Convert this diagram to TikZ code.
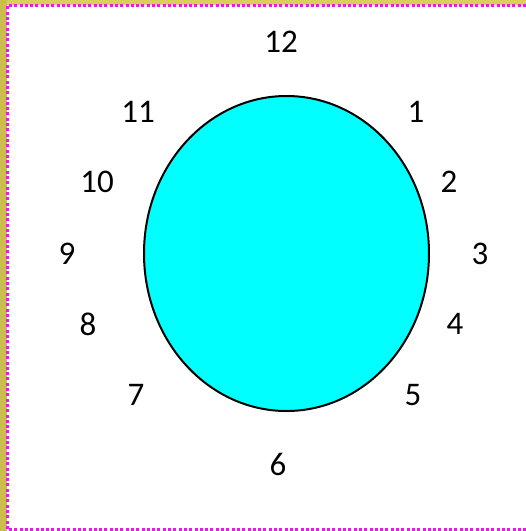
\documentclass[tikz,border=0pt]{standalone}
\usepackage{fontspec}
\setmainfont{Carlito}
\usepackage{tikz}
\usetikzlibrary{positioning}
\definecolor{myolive}{RGB}{204,190,78}
\definecolor{myyellow}{RGB}{218,206,92}
\definecolor{mymagenta}{RGB}{240,20,240}
\definecolor{mycyan}{RGB}{0,255,255}
\tikzset{
  hourlabel/.style={font=\fontsize{33}{38}\selectfont, inner sep=0pt, anchor=center}
}

\begin{document}
\begin{tikzpicture}[x=1pt, y=-1pt]
  \useasboundingbox (0,0) rectangle (526,531);
  % Frame
  \fill[white] (0,0) rectangle (526,531);
  \fill[myyellow] (0,0) rectangle (526,4.5);
  \fill[myolive] (0,0) rectangle (7,531);
  \draw[mymagenta, line width=2.2pt, dash pattern=on 3pt off 2.3pt]
    (526,5.5) -- (7.5,5.5) -- (7.5,529.5) -- (526,529.5);

  % Clock face
  \draw[black, line width=2pt, fill=mycyan] (286.5,253.5) ellipse [x radius=142.5, y radius=157.5];

  % Hour labels
  \foreach \n/\x/\y in {12/281/42, 1/416/112, 2/449/182, 3/480/254, 4/455/324, 5/413/395,
                        6/278/464, 7/136/395, 8/88/324, 9/67/254, 10/97/182, 11/138/112} {
    \node[hourlabel] (h\n) at (\x,\y) {\n};
  }
\end{tikzpicture}
\end{document}
